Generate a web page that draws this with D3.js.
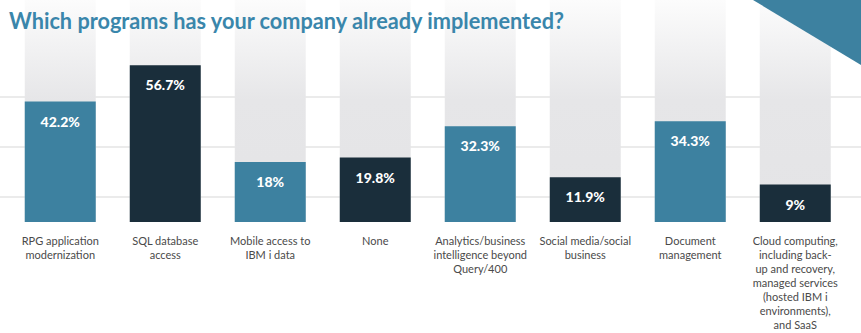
<!DOCTYPE html>
<html>
<head>
<meta charset="utf-8">
<script src="https://cdn.jsdelivr.net/npm/d3@7"></script>
<style>
  html, body { margin: 0; padding: 0; background: #ffffff; }
  svg { display: block; }
</style>
</head>
<body>
<div id="chart"></div>
<script>
const categories = [
  "RPG application modernization",
  "SQL database access",
  "Mobile access to IBM i data",
  "None",
  "Analytics/business intelligence beyond Query/400",
  "Social media/social business",
  "Document management",
  "Cloud computing, including back-up and recovery, managed services (hosted IBM i environments), and SaaS"
];
const categoryLines = [
  ["RPG application", "modernization"],
  ["SQL database", "access"],
  ["Mobile access to", "IBM i data"],
  ["None"],
  ["Analytics/business", "intelligence beyond", "Query/400"],
  ["Social media/social", "business"],
  ["Document", "management"],
  ["Cloud computing,", "including back-", "up and recovery,", "managed services", "(hosted IBM i", "environments),", "and SaaS"]
];
const values = [42.2, 56.7, 18, 19.8, 32.3, 11.9, 34.3, 9];
const valueLabels = ["42.2%", "56.7%", "18%", "19.8%", "32.3%", "11.9%", "34.3%", "9%"];
const barGroups = ["light", "dark", "light", "dark", "light", "dark", "light", "dark"];
const gridValues = [4, 24, 44];
const title = "Which programs has your company already implemented?";

const W = 861, H = 333;
const baseline = 222;
const colors = { light: "#3d81a0", dark: "#1a2e3b" };

const svg = d3.select("#chart").append("svg")
  .attr("width", W).attr("height", H);

const defs = svg.append("defs");
const grad = defs.append("linearGradient")
  .attr("id", "bgGrad")
  .attr("gradientUnits", "userSpaceOnUse")
  .attr("x1", 0).attr("y1", 0).attr("x2", 0).attr("y2", baseline);
grad.append("stop").attr("offset", "0%").attr("stop-color", "#fcfcfc");
grad.append("stop").attr("offset", "45%").attr("stop-color", "#e6e6e8");
grad.append("stop").attr("offset", "100%").attr("stop-color", "#e4e4e6");

const x = d3.scaleBand()
  .domain(categories)
  .range([7.75, 847.75])
  .paddingInner(0.324)
  .paddingOuter(0.162);

const y = d3.scaleLinear()
  .domain([-6, 82.8])
  .range([baseline, 0]);

// gridlines
svg.append("g").selectAll("line")
  .data(gridValues)
  .join("line")
  .attr("x1", 0).attr("x2", W)
  .attr("y1", d => y(d)).attr("y2", d => y(d))
  .attr("stroke", "#e4e4e4")
  .attr("stroke-width", 1.5);

// background bars
svg.append("g").selectAll("rect")
  .data(categories)
  .join("rect")
  .attr("x", d => x(d))
  .attr("y", y(82.8))
  .attr("width", x.bandwidth())
  .attr("height", baseline - y(82.8))
  .attr("fill", "url(#bgGrad)");

// value bars
svg.append("g").selectAll("rect")
  .data(values)
  .join("rect")
  .attr("x", (d, i) => x(categories[i]))
  .attr("y", d => y(d))
  .attr("width", x.bandwidth())
  .attr("height", d => baseline - y(d))
  .attr("fill", (d, i) => colors[barGroups[i]]);

// value labels
svg.append("g").selectAll("text")
  .data(values)
  .join("text")
  .attr("x", (d, i) => x(categories[i]) + x.bandwidth() / 2)
  .attr("y", d => Math.min(y(d) + 25, baseline - 8))
  .attr("text-anchor", "middle")
  .attr("fill", "#ffffff")
  .attr("font-family", "Lato, 'Open Sans', sans-serif")
  .attr("font-weight", 900)
  .attr("font-size", 14)
  .text((d, i) => valueLabels[i]);

// category labels
const cat = svg.append("g").selectAll("text")
  .data(categoryLines)
  .join("text")
  .attr("x", (d, i) => x(categories[i]) + x.bandwidth() / 2)
  .attr("y", 244.5)
  .attr("text-anchor", "middle")
  .attr("fill", "#4a4a4a")
  .attr("font-family", "Lato, 'Open Sans', sans-serif")
  .attr("font-size", 11);
cat.each(function(lines, i) {
  const t = d3.select(this);
  const cx = x(categories[i]) + x.bandwidth() / 2;
  lines.forEach((ln, j) => {
    t.append("tspan").attr("x", cx).attr("dy", j === 0 ? 0 : 14).text(ln);
  });
});

// corner triangle
svg.append("path")
  .attr("d", d3.line()([[753, 0], [W, 0], [W, 65]]) + "Z")
  .attr("fill", "#3d81a0");

// title
svg.append("text")
  .attr("x", 9)
  .attr("y", 29)
  .attr("fill", "#3a86ab")
  .attr("font-family", "Lato, 'Open Sans', sans-serif")
  .attr("font-weight", 700)
  .attr("font-size", 22)
  .attr("textLength", 555)
  .attr("lengthAdjust", "spacingAndGlyphs")
  .text(title);
</script>
</body>
</html>
